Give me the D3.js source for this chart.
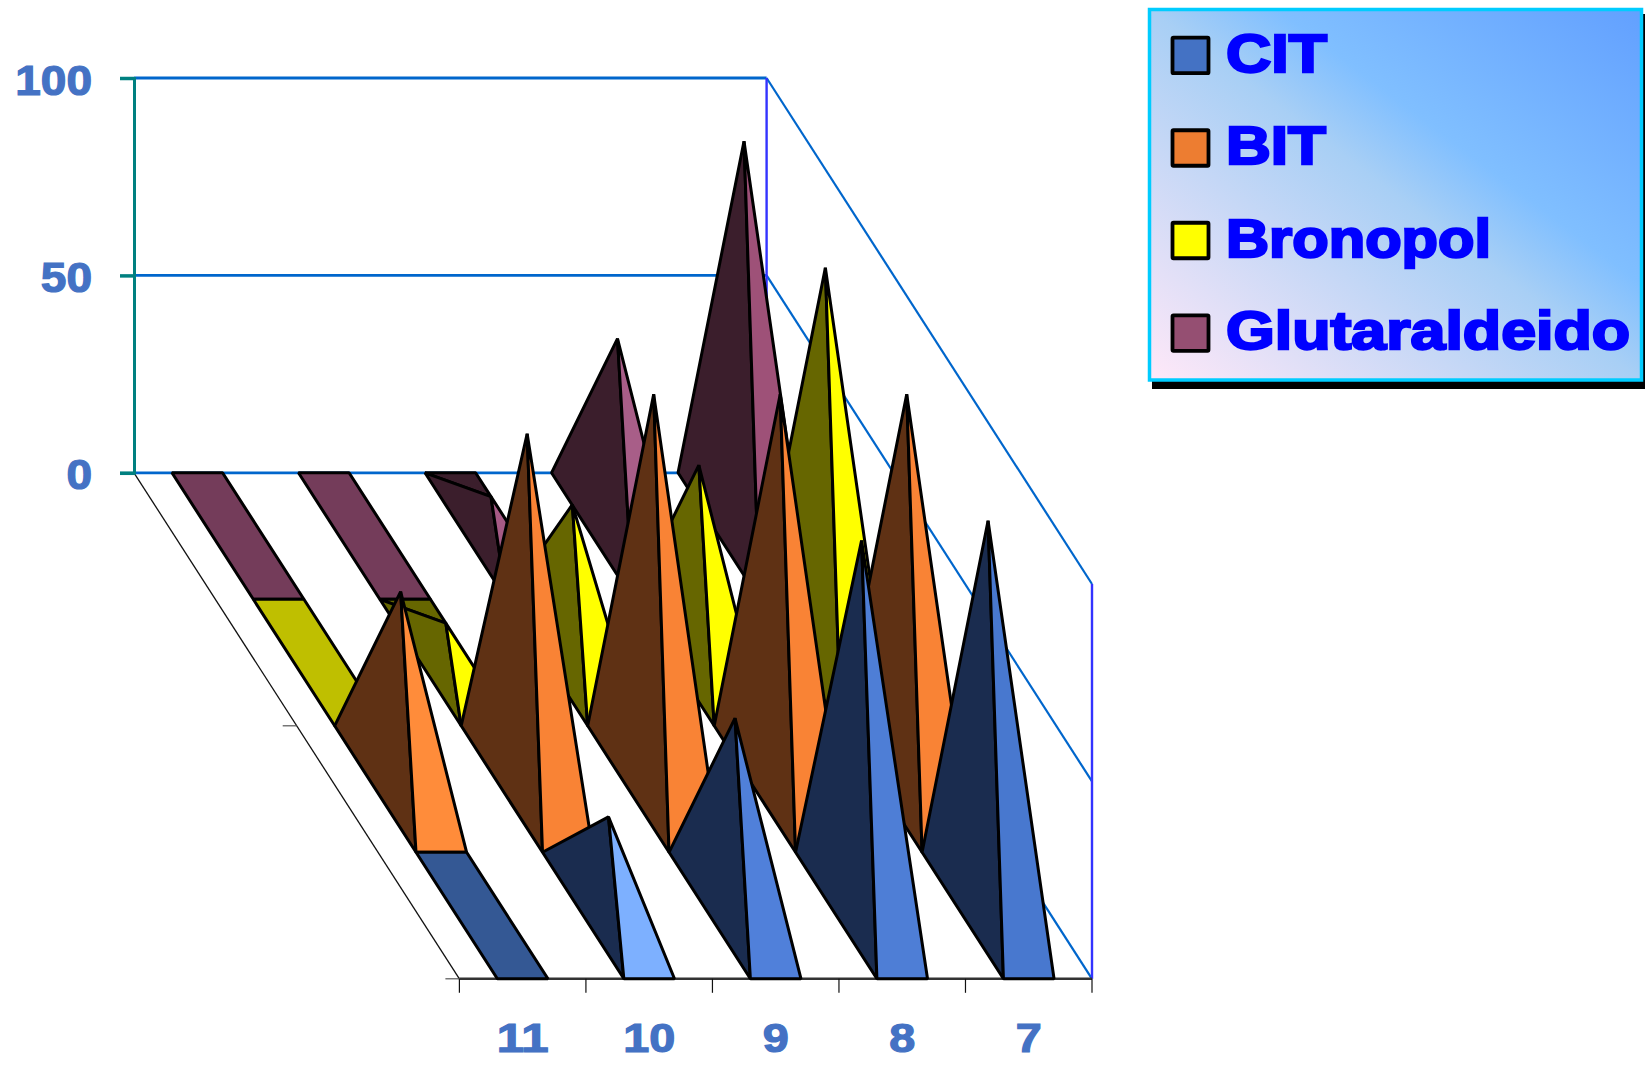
<!DOCTYPE html>
<html>
<head>
<meta charset="utf-8">
<title>Pyramid chart</title>
<script src="https://cdnjs.cloudflare.com/ajax/libs/d3/7.9.0/d3.min.js"></script>
<style>
  html, body { margin: 0; padding: 0; background: #fff; overflow: hidden; }
  svg { display: block; }
  text { font-family: "Liberation Sans", Arial, sans-serif; font-weight: bold; }
</style>
</head>
<body>
<svg id="chart" width="1645" height="1067"></svg>
<script>
// Categories along the front edge, left to right
const categories = ["11", "10", "9", "8", "7"];
// Series from the back row to the front row
const seriesNames = ["Glutaraldeido", "Bronopol", "BIT", "CIT"];
const glutaraldeido = [0, 0, 10, 50, 100];
const bronopol = [0, 10, 40, 50, 100];
const bit = [50, 90, 100, 100, 100];
const cit = [0, 25, 50, 95, 100];
const valueTicks = [0, 50, 100];

// Legend runs top to bottom, the reverse of the depth order
const legendNames = ["CIT", "BIT", "Bronopol", "Glutaraldeido"];
const legendColors = ["#4472C4", "#ED7D31", "#FFFF00", "#954F72"];
const legendTextWidths = [101, 100, 265, 404];

// Face shades per series: shadowed side, flat (zero height) column
const darkFaces = ["#3B1E2C", "#666600", "#5F3114", "#1A2C4F"];
const flatFaces = ["#743C5A", "#BFBF00", "#5F3114", "#345894"];
// Lit front faces, one per category, since lighting changes with slope
const litGlutaraldeido = ["#A65A85", "#A65A85", "#A65A85", "#A85E88", "#9E5178"];
const litBronopol = ["#FFFF00", "#FFFF00", "#FFFF00", "#FFFF00", "#FFFF00"];
const litBit = ["#FF8C3A", "#F98335", "#F98335", "#F98335", "#F98335"];
const litCit = ["#4878CF", "#7DB0FF", "#5080DA", "#4E7ED6", "#4878CF"];

const rows = [glutaraldeido, bronopol, bit, cit];
const litFaces = [litGlutaraldeido, litBronopol, litBit, litCit];

// Oblique projection of the box: the back wall plus a shear for depth
const wallLeft = 134, wallRight = 766.6, floorY = 472.8, topY = 78;
const depthDX = 325.4, depthDY = 506;

const svg = d3.select("#chart");

const x = d3.scaleBand().domain(categories).range([wallLeft, wallRight])
  .paddingInner(0.6).paddingOuter(0.3);
const depth = d3.scaleBand().domain(seriesNames).range([0, 1]);
const y = d3.scaleLinear().domain([0, 100]).range([floorY, topY]);

// Screen position of a point given wall x, depth fraction and value
const project = (px, d, v) => [px + depthDX * d, y(v) + depthDY * d];
const line = d3.line();

// Gridlines on the back and right walls
const grid = svg.append("g").attr("fill", "none").attr("stroke", "#0066CC");
valueTicks.forEach(v => {
  grid.append("path").attr("stroke-width", 2.8)
    .attr("d", line([project(wallLeft, 0, v), project(wallRight, 0, v)]));
  grid.append("path").attr("stroke-width", 2.2)
    .attr("d", line([project(wallRight, 0, v), project(wallRight, 1, v)]));
});

// Wall uprights
const uprights = svg.append("g").attr("fill", "none").attr("stroke", "#3333FF").attr("stroke-width", 2.4);
uprights.append("path").attr("d", line([project(wallRight, 0, 0), project(wallRight, 0, 100)]));
uprights.append("path").attr("d", line([project(wallRight, 1, 0), project(wallRight, 1, 100)]));

// Floor edges
const frontY = floorY + depthDY;
const frontLeft = wallLeft + depthDX, frontRight = wallRight + depthDX;
const floor = svg.append("g").attr("fill", "none");
floor.append("path").attr("stroke", "#111").attr("stroke-width", 1.3)
  .attr("d", line([project(wallLeft, 0, 0), project(wallLeft, 1, 0)]));
floor.append("path").attr("stroke", "#333").attr("stroke-width", 2.4)
  .attr("d", line([[frontLeft, frontY], [frontRight, frontY]]));

// Depth ticks: every second series
[0.5, 1].forEach(d => {
  const [px, py] = project(wallLeft, d, 0);
  floor.append("path").attr("stroke", "#555").attr("stroke-width", 1.2)
    .attr("d", line([[px - 14, py], [px, py]]));
});

// Category boundary ticks under the front edge
const step = x.step();
d3.range(categories.length + 1).forEach(i => {
  const px = frontLeft + i * step;
  floor.append("path").attr("stroke", "#111").attr("stroke-width", 1.2)
    .attr("d", line([[px, frontY], [px, frontY + 14]]));
});

// Value axis
const yAxis = d3.axisLeft(y).tickValues(valueTicks).tickSize(14).tickPadding(28);
const yG = svg.append("g").attr("transform", `translate(${wallLeft},0)`).call(yAxis);
yG.select(".domain").attr("stroke", "#008080").attr("stroke-width", 3);
yG.selectAll(".tick line").attr("stroke", "#008080").attr("stroke-width", 3.5);
yG.selectAll(".tick text")
  .attr("dy", "0.385em")
  .attr("textLength", d => String(d).length * 25.6)
  .attr("lengthAdjust", "spacingAndGlyphs")
  .style("font-family", '"Liberation Sans", Arial, sans-serif')
  .style("font-weight", "bold")
  .style("font-size", "42px")
  .attr("fill", "#4472C4").attr("stroke", "#4472C4").attr("stroke-width", 1.2);

// Category axis labels, centred under each band step
const xFront = d3.scaleBand().domain(categories).range([frontLeft, frontRight]);
const xAxis = d3.axisBottom(xFront).tickSize(0).tickPadding(44.5);
const xG = svg.append("g").attr("transform", `translate(0,${frontY})`).call(xAxis);
xG.select(".domain").remove();
xG.selectAll(".tick text")
  .attr("dy", "0.71em")
  .attr("textLength", d => d.length * 26)
  .attr("lengthAdjust", "spacingAndGlyphs")
  .style("font-family", '"Liberation Sans", Arial, sans-serif')
  .style("font-weight", "bold")
  .style("font-size", "40px")
  .attr("fill", "#4472C4").attr("stroke", "#4472C4").attr("stroke-width", 1.2);

// Pyramids, painted from the back row forward
const marks = svg.append("g").attr("stroke", "#000").attr("stroke-width", 3).attr("stroke-linejoin", "bevel");
const face = (pts, fill) => marks.append("path").attr("d", line(pts) + "Z").attr("fill", fill);
const orient = (a, b, c) => (b[0] - a[0]) * (c[1] - a[1]) - (b[1] - a[1]) * (c[0] - a[0]);

seriesNames.forEach((name, s) => {
  const d0 = depth(name), d1 = d0 + depth.bandwidth();
  categories.forEach((cat, c) => {
    const v = rows[s][c];
    const x0 = x(cat), x1 = x0 + x.bandwidth();
    const bl = project(x0, d0, 0), br = project(x1, d0, 0);
    const fr = project(x1, d1, 0), fl = project(x0, d1, 0);
    if (v === 0) {
      face([bl, br, fr, fl], flatFaces[s]);
      return;
    }
    const apex = project((x0 + x1) / 2, (d0 + d1) / 2, v);
    const dark = darkFaces[s], lit = litFaces[s][c];
    // The back and right faces only show on low pyramids
    if (orient(bl, br, apex) > 0) face([bl, br, apex], dark);
    if (orient(br, fr, apex) > 0) face([br, fr, apex], lit);
    face([bl, apex, fl], dark);
    face([fl, apex, fr], lit);
  });
});

// Legend box with drop shadow and diagonal gradient
const defs = svg.append("defs");
const grad = defs.append("linearGradient").attr("id", "legendFill")
  .attr("x1", 0).attr("y1", 1).attr("x2", 1).attr("y2", 0);
[[0, "#FFE8F8"], [0.5, "#A8CFF5"], [0.63, "#80BFFF"], [1, "#62A0FF"]].forEach(([o, col]) => {
  grad.append("stop").attr("offset", o).attr("stop-color", col);
});

const legend = svg.append("g");
legend.append("rect").attr("x", 1152).attr("y", 14).attr("width", 493).attr("height", 375).attr("fill", "#000");
legend.append("rect").attr("x", 1149.5).attr("y", 9.5).attr("width", 492).attr("height", 370.5)
  .attr("fill", "url(#legendFill)").attr("stroke", "#00CCFF").attr("stroke-width", 3.5);

const legendRow = d3.scalePoint().domain(legendNames).range([71.7, 349.3]);
legendNames.forEach((name, i) => {
  const base = legendRow(name);
  legend.append("rect").attr("x", 1172.5).attr("y", base - 34).attr("width", 36).attr("height", 35.5)
    .attr("fill", legendColors[i]).attr("stroke", "#000").attr("stroke-width", 3.8).attr("rx", 1);
  legend.append("text").attr("x", 1226).attr("y", base).text(name)
    .attr("font-size", 54).attr("fill", "#0000FF").attr("stroke", "#0000FF").attr("stroke-width", 2.4)
    .attr("textLength", legendTextWidths[i]).attr("lengthAdjust", "spacingAndGlyphs");
});
</script>
</body>
</html>
